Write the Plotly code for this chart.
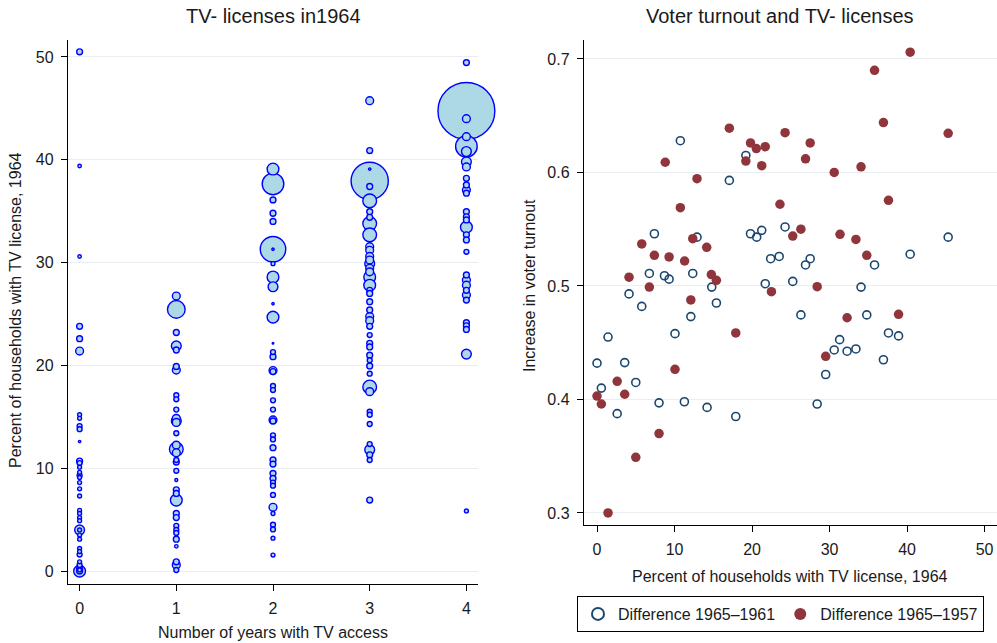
import plotly.graph_objects as go

# ---------------- Left panel data: years of TV access, % households with TV licence, bubble weight
pct_0 = [50.5, 39.4, 30.6, 23.8, 22.6, 21.4, 15.2, 14.85, 14.1, 13.8, 12.6, 10.7, 10.5, 10.1, 9.6, 9.3, 9.1,
         8.6, 8.0, 7.3, 5.9, 5.6, 5.2, 4.9, 4.0, 4.0, 3.5, 3.1, 2.2, 1.9, 1.6, 0.9, 0.6, 0.0, 0.2, 0.0, 0.1]
w_0 = [9, 3.2, 3.2, 9, 9, 16, 4, 4, 6.3, 6.3, 1.4, 9, 6.3, 4, 4, 6.3, 4, 4, 4, 4, 4, 4, 4, 4, 25, 4, 4, 4,
       4, 4, 6.3, 4, 6.3, 36, 9, 9, 4]
pct_1 = [26.75, 25.45, 23.2, 21.9, 21.5, 19.9, 19.55, 17.1, 16.7, 15.7, 14.85, 14.6, 14.45, 13.4, 12.25,
         11.85, 11.5, 10.8, 10.6, 9.75, 8.85, 7.9, 7.55, 6.9, 5.6, 5.2, 4.4, 4.0, 3.7, 3.1, 2.4, 0.9, 0.6, 0.1]
w_1 = [16, 81, 9, 25, 9, 9, 16, 6.3, 6.3, 6.3, 16, 25, 16, 6.3, 16, 49, 16, 6.3, 9, 6.3, 2.3, 9, 9, 36, 9,
       9, 6.3, 6.3, 6.3, 9, 3.2, 9, 16, 6.3]
pct_2 = [39.1, 37.65, 36.1, 34.8, 34.0, 31.3, 31.3, 29.9, 28.6, 27.65, 26.0, 24.7, 22.15, 21.3, 20.85, 19.5,
         19.4, 18.0, 17.6, 16.6, 15.7, 14.7, 14.6, 13.2, 12.8, 12.0, 10.8, 10.4, 9.5, 9.0, 8.6, 8.3, 7.4, 6.2,
         5.6, 4.5, 4.05, 3.2, 1.55]
w_2 = [36, 121, 9, 9, 9, 169, 1.4, 4, 36, 25, 1.4, 36, 0.6, 6.3, 9, 16, 9, 6.3, 6.3, 6.3, 6.3, 16, 9, 6.3,
       6.3, 9, 9, 9, 9, 9, 6.3, 6.3, 6.3, 16, 4, 6.3, 6.3, 4, 4]
pct_3 = [45.75, 40.9, 39.1, 37.95, 37.4, 36.0, 34.95, 34.4, 33.8, 32.7, 31.55, 31.2, 30.6, 30.25, 29.9,
         29.45, 29.1, 28.6, 27.8, 27.3, 27.0, 26.2, 25.4, 24.75, 24.35, 23.8, 22.95, 22.15, 21.8, 21.0, 20.5,
         19.95, 19.2, 17.9, 17.45, 15.5, 15.2, 14.3, 12.35, 11.8, 11.3, 10.8, 6.9]
w_3 = [16, 9, 1.4, 361, 9, 49, 9, 9, 49, 49, 16, 16, 16, 16, 25, 16, 16, 36, 36, 9, 9, 9, 9, 16, 16, 9, 6.3,
       9, 9, 9, 6.3, 9, 6.3, 49, 16, 6.3, 6.3, 6.3, 6.3, 25, 9, 6.3, 9]
pct_4 = [49.45, 44.75, 44.0, 42.25, 41.3, 40.8, 39.8, 39.3, 38.2, 37.55, 37.05, 36.75, 34.95, 34.45, 34.15,
         33.45, 32.7, 32.2, 31.05, 28.8, 28.3, 27.8, 27.3, 26.85, 26.35, 24.15, 23.85, 23.5, 21.1, 5.85]
w_4 = [9, 841, 16, 16, 121, 25, 25, 16, 9, 9, 16, 9, 9, 9, 9, 36, 9, 9, 6.3, 9, 16, 16, 9, 16, 9, 9, 9, 9,
       25, 4]

years_ticks = [0, 1, 2, 3, 4]
left_y_ticks = [0, 10, 20, 30, 40, 50]

# ---------------- Right panel data
tv_61 = [10.75, 17.07, 19.2, 7.4, 12.9, 6.75, 12.35, 8.7, 9.3, 14.8, 4.13, 15.4, 5.77, 12.1, 10.06, 1.42,
         0.0, 3.57, 5.0, 0.56, 8.0, 11.27, 14.2, 2.6, 17.9, 19.8, 20.6, 21.25, 22.4, 23.5, 21.7, 24.26, 45.3,
         26.9, 27.5, 40.4, 35.8, 25.25, 34.06, 26.3, 34.8, 37.6, 38.9, 31.3, 30.6, 32.26, 33.4, 36.95, 29.5,
         28.4]
turn_61 = [0.628, 0.593, 0.615, 0.546, 0.543, 0.511, 0.511, 0.509, 0.506, 0.499, 0.493, 0.485, 0.482, 0.473,
           0.458, 0.455, 0.432, 0.4325, 0.415, 0.410, 0.397, 0.398, 0.393, 0.3875, 0.385, 0.546, 0.543,
           0.549, 0.524, 0.526, 0.502, 0.552, 0.543, 0.5185, 0.524, 0.528, 0.5185, 0.504, 0.499, 0.4745,
           0.4745, 0.4586, 0.456, 0.4527, 0.4436, 0.4425, 0.4445, 0.435, 0.422, 0.396]
tv_57 = [17.07, 8.8, 12.9, 19.2, 19.8, 20.55, 21.7, 21.25, 10.75, 12.35, 5.77, 14.15, 7.4, 9.3, 11.3, 4.13,
         14.75, 15.4, 6.75, 12.1, 17.9, 10.06, 2.6, 0.0, 3.57, 0.56, 8.0, 5.0, 1.42, 23.6, 22.5, 40.4, 35.8,
         36.95, 45.3, 24.26, 27.5, 26.9, 30.6, 34.06, 37.6, 26.3, 25.25, 31.35, 33.4, 34.8, 28.4, 32.26, 38.9,
         29.5]
turn_57 = [0.639, 0.609, 0.5945, 0.610, 0.626, 0.621, 0.6227, 0.606, 0.569, 0.5417, 0.537, 0.534, 0.527,
           0.5256, 0.522, 0.5077, 0.510, 0.505, 0.499, 0.4877, 0.4586, 0.4266, 0.416, 0.403, 0.4046, 0.396,
           0.370, 0.349, 0.300, 0.572, 0.495, 0.706, 0.690, 0.644, 0.6345, 0.635, 0.626, 0.612, 0.600, 0.605,
           0.5755, 0.550, 0.544, 0.5455, 0.541, 0.527, 0.4994, 0.472, 0.475, 0.438]

right_x_ticks = [0, 10, 20, 30, 40, 50]
right_y_ticks = [0.3, 0.4, 0.5, 0.6, 0.7]

# ---------------- build bubble table (largest drawn first)
cols = [(0, pct_0, w_0), (1, pct_1, w_1), (2, pct_2, w_2), (3, pct_3, w_3), (4, pct_4, w_4)]
rows = []
for yr, p, w in cols:
    assert len(p) == len(w)
    rows += [(yr, pi, wi) for pi, wi in zip(p, w)]
rows.sort(key=lambda r: -r[2])
bx = [r[0] for r in rows]
by = [r[1] for r in rows]
bw = [r[2] for r in rows]

W, H = 997, 643
FONT = "Liberation Sans, Arial, Helvetica, sans-serif"
TXT = "#1a1a1a"
GRID = "#e8eef2"

def px(x):
    return x / W

def py(y):
    return 1 - y / H

fig = go.Figure()

fig.add_trace(go.Scatter(
    x=bx, y=by, mode="markers", showlegend=False, cliponaxis=False,
    marker=dict(size=bw, sizemode="area", sizeref=0.52, sizemin=0.8, opacity=1,
                color="#add8e6", line=dict(color="#0000ff", width=1.4)),
    xaxis="x", yaxis="y"))

fig.add_trace(go.Scatter(
    x=tv_61, y=turn_61, mode="markers", name="Difference 1965\u20131961",
    marker=dict(symbol="circle-open", size=8, color="#1a476f", line=dict(width=1.6)),
    xaxis="x2", yaxis="y2"))
fig.add_trace(go.Scatter(
    x=tv_57, y=turn_57, mode="markers", name="Difference 1965\u20131957",
    marker=dict(symbol="circle", size=9.5, color="#90353b"),
    xaxis="x2", yaxis="y2"))

axis_common = dict(showline=True, linecolor="black", linewidth=1.4, ticks="outside", ticklen=6,
                   tickwidth=1.2, tickcolor="black", zeroline=False, ticklabelstandoff=4,
                   tickfont=dict(family=FONT, size=16, color=TXT))

fig.update_layout(
    width=W, height=H, margin=dict(l=0, r=0, t=0, b=0, autoexpand=False),
    paper_bgcolor="white", plot_bgcolor="white",
    font=dict(family=FONT, color=TXT),
    xaxis=dict(domain=[px(68), px(478)], range=[-0.12, 4.12], tickvals=years_ticks,
               showgrid=False, anchor="y", **axis_common),
    yaxis=dict(domain=[py(584), py(40)], range=[-1.26, 51.65], tickvals=left_y_ticks,
               showgrid=True, gridcolor=GRID, gridwidth=1, anchor="x", **axis_common),
    xaxis2=dict(domain=[px(584), px(997)], range=[-1.68, 51.6], tickvals=right_x_ticks,
                showgrid=False, anchor="y2", **axis_common),
    yaxis2=dict(domain=[py(525), py(40)], range=[0.2894, 0.7167], tickvals=right_y_ticks,
                tickformat=".1f", showgrid=True, gridcolor=GRID, gridwidth=1, anchor="x2", **axis_common),
    legend=dict(orientation="h", x=px(577), y=py(596), xanchor="left", yanchor="top",
                bordercolor="black", borderwidth=1, bgcolor="white",
                font=dict(family=FONT, size=16, color=TXT), itemsizing="constant"),
    annotations=[
        dict(text="TV- licenses in1964", x=px(273), y=py(16), xref="paper", yref="paper",
             showarrow=False, font=dict(size=20, family=FONT, color=TXT), xanchor="center", yanchor="middle"),
        dict(text="Voter turnout and TV- licenses", x=px(780), y=py(16), xref="paper", yref="paper",
             showarrow=False, font=dict(size=20, family=FONT, color=TXT), xanchor="center", yanchor="middle"),
        dict(text="Number of years with TV access", x=px(273), y=py(632), xref="paper", yref="paper",
             showarrow=False, font=dict(size=16, family=FONT, color=TXT), xanchor="center", yanchor="middle"),
        dict(text="Percent of households with TV license, 1964", x=px(15), y=py(310), xref="paper",
             yref="paper", showarrow=False, textangle=-90,
             font=dict(size=16, family=FONT, color=TXT), xanchor="center", yanchor="middle"),
        dict(text="Percent of households with TV license, 1964", x=px(790), y=py(576), xref="paper",
             yref="paper", showarrow=False, font=dict(size=16, family=FONT, color=TXT),
             xanchor="center", yanchor="middle"),
        dict(text="Increase in voter turnout", x=px(529), y=py(286), xref="paper", yref="paper",
             showarrow=False, textangle=-90, font=dict(size=16, family=FONT, color=TXT),
             xanchor="center", yanchor="middle"),
    ],
)

fig.write_html("out.html", config={"displayModeBar": False},
               post_script="document.body.style.margin='0px';")
